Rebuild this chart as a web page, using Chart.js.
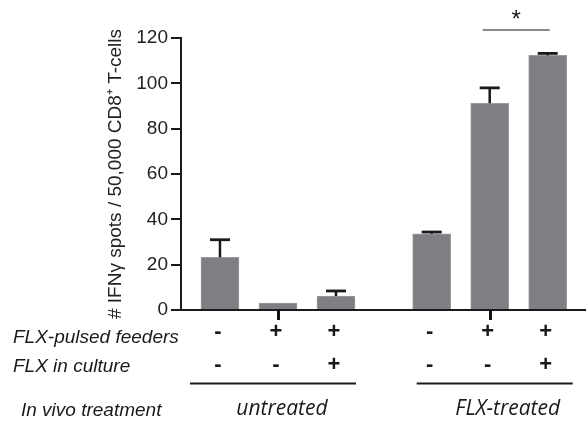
<!DOCTYPE html>
<html><head><meta charset="utf-8">
<script src="https://cdn.jsdelivr.net/npm/chart.js@4"></script>
<style>html,body{margin:0;padding:0;background:#fff}</style>
</head><body>
<canvas id="c" width="586" height="424"></canvas>
<script>
// ---- data ----
const groupLabels = ['untreated', 'FLX-treated'];
const groupIndex = [0, 0, 0, 1, 1, 1];
const pulsedFeeders = ['-', '+', '+', '-', '+', '+'];
const flxInCulture = ['-', '-', '+', '-', '-', '+'];
const spots = [23.2, 3.0, 6.1, 33.6, 91.2, 112.3];
const errUpper = [7.8, 0, 2.3, 0.8, 6.8, 0.9];
const yTicks = [0, 20, 40, 60, 80, 100, 120];
const xTickBars = [1, 4];
const rowLabels = ['FLX-pulsed feeders', 'FLX in culture'];
const groupRowLabel = 'In vivo treatment';
const yTitle = '# IFN\u03B3 spots / 50,000 CD8\u207A T-cells';
const sigPair = [4, 5];
const sigLabel = '*';

// ---- layout helpers ----
const GROUP_GAP = 0.65;
const pos = groupIndex.map((g, i) => i + g * GROUP_GAP);
const FONT = '"Liberation Sans", Arial, sans-serif';
const INK = '#1a1a1a';

const errorBars = {
  id: 'errorBars',
  afterDatasetsDraw(chart) {
    const {ctx, scales: {x, y}} = chart;
    ctx.save();
    ctx.strokeStyle = INK;
    spots.forEach((v, i) => {
      if (!(errUpper[i] > 0)) return;
      const px = x.getPixelForValue(pos[i]);
      const yb = y.getPixelForValue(v);
      const yt = y.getPixelForValue(v + errUpper[i]);
      ctx.lineWidth = 2.5;
      ctx.beginPath(); ctx.moveTo(px, yb); ctx.lineTo(px, yt); ctx.stroke();
      ctx.lineWidth = 2.8;
      ctx.beginPath(); ctx.moveTo(px - 10, yt); ctx.lineTo(px + 10, yt); ctx.stroke();
    });
    ctx.restore();
  }
};

const annotations = {
  id: 'figureAnnotations',
  afterDraw(chart) {
    const {ctx, scales: {x, y}} = chart;
    const b = chart.chartArea.bottom;
    ctx.save();
    ctx.fillStyle = '#111111';
    // x tick marks under the middle bar of each group
    xTickBars.forEach(i => {
      const px = Math.round(x.getPixelForValue(pos[i]));
      ctx.fillRect(px - 1, b, 3, 10);
    });
    ctx.fillStyle = INK;
    // row labels
    ctx.font = 'italic 19px ' + FONT;
    ctx.textAlign = 'left';
    ctx.textBaseline = 'alphabetic';
    ctx.fillText(rowLabels[0], 13, 343);
    ctx.fillText(rowLabels[1], 13, 372);
    ctx.fillText(groupRowLabel, 21, 416);
    // signs
    ctx.font = 'bold 22px ' + FONT;
    ctx.textAlign = 'center';
    ctx.textBaseline = 'middle';
    pos.forEach((p, i) => {
      const px = x.getPixelForValue(p) - 2;
      ctx.fillText(pulsedFeeders[i], px, 332);
      ctx.fillText(flxInCulture[i], px, 365);
    });
    // group lines and labels
    ctx.strokeStyle = INK;
    ctx.lineWidth = 2;
    const g0a = x.getPixelForValue(pos[0]) - 30, g0b = x.getPixelForValue(pos[2]) + 20;
    const g1a = x.getPixelForValue(pos[3]) - 15, g1b = x.getPixelForValue(pos[5]) + 25;
    ctx.beginPath(); ctx.moveTo(g0a, 383.5); ctx.lineTo(g0b, 383.5); ctx.stroke();
    ctx.beginPath(); ctx.moveTo(g1a, 383.5); ctx.lineTo(g1b, 383.5); ctx.stroke();
    ctx.font = 'italic 21px "Open Sans", sans-serif';
    ctx.textBaseline = 'alphabetic';
    ctx.fillText(groupLabels[0], x.getPixelForValue(pos[1]) + 4, 415);
    ctx.fillText(groupLabels[1], x.getPixelForValue(pos[4]) + 18, 415);
    // significance bracket
    const s0 = x.getPixelForValue(pos[sigPair[0]]) - 7;
    const s1 = x.getPixelForValue(pos[sigPair[1]]) + 2;
    const topY = chart.chartArea.top;
    ctx.strokeStyle = '#8a8a8a';
    ctx.lineWidth = 2;
    ctx.beginPath(); ctx.moveTo(s0, topY - 8); ctx.lineTo(s1, topY - 8); ctx.stroke();
    ctx.font = '24px ' + FONT;
    ctx.fillStyle = INK;
    ctx.fillText(sigLabel, (s0 + s1) / 2, topY - 11);
    ctx.restore();
  }
};

new Chart(document.getElementById('c'), {
  type: 'bar',
  data: {
    datasets: [{
      data: pos.map((p, i) => ({x: p, y: spots[i]})),
      backgroundColor: '#7e7f83',
      borderColor: '#9a9b9e',
      borderWidth: 1,
      barThickness: 38,
      grouped: false
    }]
  },
  options: {
    responsive: false,
    animation: false,
    devicePixelRatio: 1,
    layout: {padding: {top: 38, right: 0, bottom: 104, left: 0}},
    plugins: {legend: {display: false}, tooltip: {enabled: false}},
    scales: {
      x: {
        type: 'linear',
        min: -0.672,
        max: 6.31,
        offset: false,
        grid: {display: false},
        border: {display: true, color: INK, width: 2},
        ticks: {display: false},
        afterFit: s => { s.height = 10; }
      },
      y: {
        min: 0,
        max: 120,
        afterBuildTicks: s => { s.ticks = yTicks.map(v => ({value: v})); },
        ticks: {color: '#222', font: {family: FONT, size: 19}, padding: 3},
        grid: {display: true, drawOnChartArea: false, drawTicks: true, tickLength: 10, color: INK, lineWidth: 2},
        border: {display: true, color: INK, width: 2},
        title: {display: true, text: yTitle, color: '#222', font: {family: FONT, size: 19}, padding: {top: 104, bottom: 0}},
        afterFit: s => { s.width = 181; }
      }
    }
  },
  plugins: [errorBars, annotations]
});
</script>
</body></html>
